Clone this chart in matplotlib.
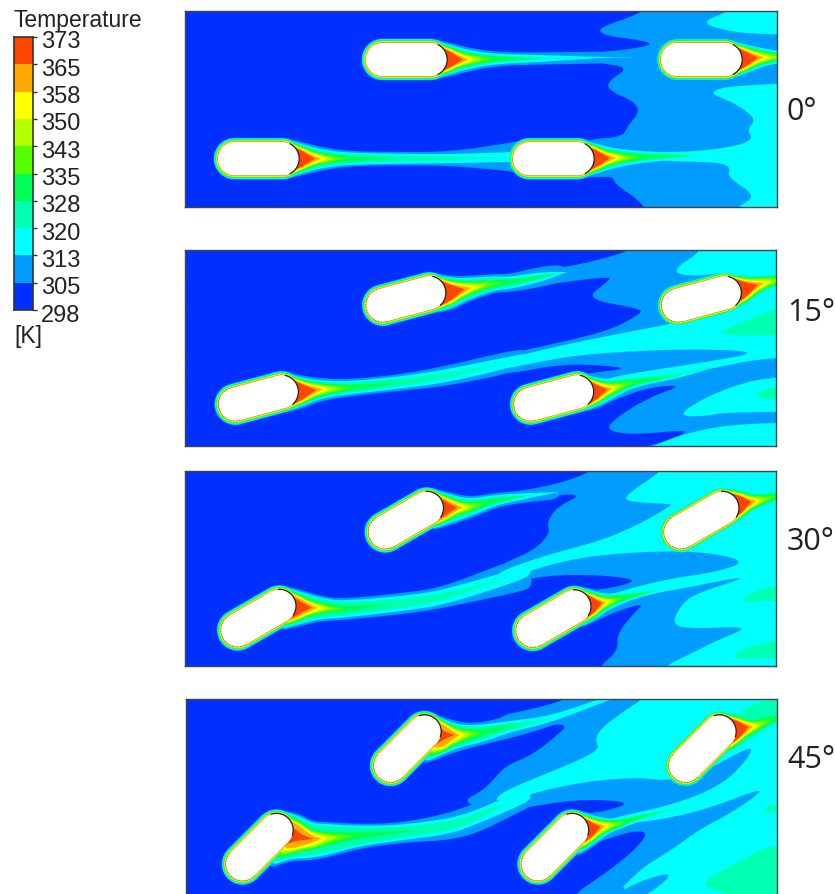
"""
plot.py
-------
Temperature contours around four staggered capsule tubes at 0, 15, 30, 45 deg.
All outlines are read off the picture, in picture pixels.
"""

import numpy as np
import matplotlib
matplotlib.use("Agg")
import matplotlib.pyplot as plt
from matplotlib.colors import ListedColormap, BoundaryNorm
from matplotlib.transforms import ScaledTranslation

# ── Legend ────────────────────────────────────────────────────────────────────
LEVELS = [298, 305.5, 313, 320.5, 328, 335.5, 343, 350.5, 358, 365.5, 373]
LEVEL_LABELS = ["298", "305", "313", "320", "328", "335", "343", "350", "358", "365", "373"]
COLORS = ["#0030ff", "#009cff", "#00ffff", "#00ffb0", "#00ff55",
          "#55ff00", "#b4ff00", "#ffff00", "#ffaa00", "#ff4400"]

ANGLES = [0, 15, 30, 45]
ANGLE_LABELS = ["0°", "15°", "30°", "45°"]
ANGLE_LABEL_Y = [112, 313, 542, 760]
PANELS = [(185, 777, 12, 208), (185, 776, 251, 447), (185, 776, 472, 667), (186, 777, 700, 895)]
EDGE_TICKS_1 = [266, 274, 312, 353, 371, 413, 425, 437]

TUBE_HALF = 24
TUBE_R = 16.7

# ── Tube centres ──────────────────────────────────────────────────────────────
TUBES_0 = [(258.5, 159.7), (406.5, 60.5), (553.5, 159.7), (701.5, 60.5)]
TUBES_1 = [(258.5, 399), (406, 300), (553.8, 399), (701.5, 300)]
TUBES_2 = [(258.5, 619), (406, 521), (553.5, 619.5), (701.5, 521)]
TUBES_3 = [(259.5, 848), (407.5, 749.5), (555, 848), (702.5, 749.5)]

# ── Contour outlines: 305 K, 313 K and 320 K ──────────────────────────────────
MID_0 = [[(645, 5), (643, 12), (630, 18), (596, 30), (607, 37), (633, 40), (656, 45), (625, 51),
          (596, 53), (596, 64), (630, 68), (607, 83), (610, 92), (633, 102), (640, 112), (628, 127),
          (622, 138), (590, 140), (570, 150), (570, 170), (590, 179), (613, 177), (615, 185),
          (633, 197), (645, 208), (645, 215), (1000, 215), (1000, 5)]]
CYAN_0 = [[(733, 5), (730, 12), (701, 23), (722, 31), (760, 36), (1000, 38), (1000, 5)],
          [(1000, 79), (740, 85), (706, 93), (733, 103), (757, 120), (747, 130), (754, 143), (707, 152),
           (660, 153), (622, 157), (660, 162), (717, 163), (731, 168), (727, 178), (757, 197),
           (737, 208), (737, 215), (1000, 215)]]
TEAL_0 = []

MID_1 = [[(633, 245), (630, 252), (583, 265), (533, 273), (497, 279), (497, 293), (550, 285), (612, 277),
          (607, 283), (585, 300), (642, 310), (640, 315), (613, 330), (567, 342), (497, 357), (497, 377),
          (550, 367), (583, 365), (630, 369), (600, 373), (583, 375), (570, 380), (565, 395), (575, 410),
          (593, 408), (617, 400), (650, 388), (684, 386), (650, 398), (617, 418), (605, 431), (633, 436),
          (695, 430), (663, 443), (647, 447), (645, 455), (1000, 455), (1000, 245)]]
CYAN_1 = [[(700, 245), (700, 253), (671, 272), (690, 278), (737, 272), (745, 290), (738, 311), (680, 323),
           (633, 332), (567, 345), (497, 362), (497, 372), (567, 357), (633, 352), (700, 350), (763, 353),
           (700, 364), (633, 374), (600, 381), (633, 384), (700, 372), (777, 356), (1000, 354), (1000, 245)],
          [(676, 416), (717, 392), (777, 375), (1000, 372), (1000, 415), (733, 412), (700, 418)],
          [(1000, 421), (777, 423), (707, 428), (650, 447), (650, 455), (1000, 455)]]
TEAL_1 = [[(711, 337), (745, 322), (777, 309), (790, 305), (1000, 300), (1000, 336), (790, 336)],
          [(750, 397), (777, 385), (1000, 383), (1000, 402), (777, 402)]]

MID_2 = [[(592, 465), (592, 472), (567, 482), (533, 490), (497, 495), (497, 508), (533, 498), (585, 494),
          (557, 508), (547, 523), (550, 535), (533, 552), (497, 567), (497, 590), (533, 578), (583, 575),
          (640, 580), (617, 588), (587, 592), (565, 605), (575, 625), (590, 625), (617, 612), (645, 604),
          (633, 615), (617, 635), (618, 652), (600, 667), (600, 675), (1000, 675), (1000, 465)]]
CYAN_2 = [[(662, 465), (662, 472), (623, 498), (630, 503), (672, 505), (670, 507), (640, 525), (600, 542),
           (550, 555), (497, 573), (497, 583), (567, 560), (633, 553), (700, 552), (748, 562), (717, 573),
           (667, 580), (617, 593), (600, 600), (650, 596), (760, 574), (700, 593), (683, 603), (671, 625),
           (690, 630), (752, 627), (720, 640), (690, 655), (665, 667), (665, 675), (1000, 675), (1000, 465)]]
TEAL_2 = [[(733, 604), (777, 582), (1000, 580), (1000, 600), (777, 601)],
          [(720, 660), (777, 637), (1000, 635), (1000, 660), (777, 659)]]

MID_3 = [[(568, 693), (568, 700), (533, 710), (497, 717), (497, 734), (533, 728), (570, 724), (553, 740),
          (530, 757), (505, 767), (490, 785), (478, 794), (462, 803), (497, 815), (533, 807), (583, 800),
          (632, 803), (607, 812), (583, 815), (570, 825), (570, 840), (600, 843), (627, 833), (650, 832),
          (633, 853), (600, 878), (577, 893), (575, 902), (1000, 902), (1000, 693)],
         ]
CYAN_3 = [[(643, 693), (643, 700), (627, 710), (600, 730), (595, 742), (600, 750), (577, 762), (550, 773),
           (497, 795), (497, 805), (567, 785), (633, 778), (665, 782), (700, 775), (745, 750), (754, 750),
           (735, 775), (707, 793), (667, 807), (617, 818), (600, 823), (633, 825), (700, 813), (772, 785),
           (733, 813), (700, 830), (673, 850), (640, 870), (610, 902), (1000, 902), (1000, 693)]]
MID_EXTRA_3 = [[(679, 871), (633, 884), (610, 902), (640, 902)]]
TEAL_3 = [[(759, 813), (777, 802), (1000, 800), (1000, 815), (777, 814)],
          [(698, 885), (740, 862), (777, 842), (1000, 838), (1000, 902), (740, 902), (722, 893)],
          [(735, 718), (750, 705), (777, 700), (1000, 698), (1000, 725), (760, 722)]]

# ── Wakes behind each tube: centre line and half widths of the cool bands ─────
WAKES_0 = [
    dict(center=[(299, 159.7), (320, 159.7), (347, 159.7), (397, 159.7), (450, 159.7), (510, 158), (522, 158)],
         hw305=[17, 12, 7.5, 6.5, 7, 14, 17], hw313=[15, 9.5, 6, 5, 4.5, 5, 5], hw320=[14, 8, 4.5, 3, 1.5, 0, 0],
         hot_len=1.0, hot_w=1.0, low=1.0, back=0, red=1.0),
    dict(center=[(447, 60.5), (468, 60.5), (495, 60), (540, 59.5), (600, 58.5), (640, 58)],
         hw305=[17, 12, 7, 6, 6, 5], hw313=[15, 9.5, 5, 3.5, 0.5, 0], hw320=[14, 8, 3.5, 1, 0, 0],
         hot_len=1.0, hot_w=1.0, low=1.0, back=0, red=1.0),
    dict(center=[(594, 159.7), (615, 159), (640, 158), (680, 157), (700, 157)],
         hw305=[17, 12, 9, 7, 0], hw313=[15, 9.5, 6, 3, 0], hw320=[14, 8, 4, 1.5, 0],
         hot_len=1.0, hot_w=1.0, low=1.0, back=0, red=1.0),
    dict(center=[(742, 60), (760, 58.5), (777, 58), (795, 58)],
         hw305=[18, 12, 9, 9], hw313=[15, 10, 6, 6], hw320=[14, 9, 4, 4],
         hot_len=1.0, hot_w=1.0, low=1.0, back=0, red=1.0),
]
WAKES_1 = [
    dict(center=[(298, 393), (320, 390.5), (347, 389), (397, 384), (447, 377), (510, 363), (530, 358)],
         hw305=[17, 11.5, 8.5, 8, 10, 11, 8], hw313=[15, 9, 6.5, 6, 6.5, 5.5, 4], hw320=[14, 8, 5, 4, 2.5, 0, 0],
         hot_len=1.15, hot_w=1.0, low=1.0, back=4, red=1.0),
    dict(center=[(446, 294), (465, 290), (495, 284), (510, 284), (540, 278), (567, 273)],
         hw305=[18, 13, 9, 9, 10, 8], hw313=[16, 11, 7, 6, 5, 0], hw320=[15, 10, 6, 4, 2, 0],
         hot_len=1.2, hot_w=1.05, low=1.0, back=4, red=1.0),
    dict(center=[(593, 393), (610, 390), (633, 383), (680, 376), (720, 365)],
         hw305=[17, 12, 8, 6, 4], hw313=[15, 10, 5, 3, 1], hw320=[14, 8, 4, 1, 0],
         hot_len=0.9, hot_w=1.0, low=1.0, back=4, red=1.0),
    dict(center=[(741, 291), (760, 285), (777, 281), (795, 280)],
         hw305=[16, 9, 7, 6], hw313=[16, 9, 7, 6], hw320=[15, 8, 6, 5],
         hot_len=1.1, hot_w=1.0, low=1.0, back=4, red=1.0),
]
WAKES_2 = [
    dict(center=[(296, 608), (320, 609), (343, 610), (413, 603), (447, 597), (510, 578), (530, 572)],
         hw305=[18, 12, 10, 10, 10, 15, 15], hw313=[16, 10, 8, 7, 7, 6, 4], hw320=[15, 9, 6, 4, 3, 0, 0],
         hot_len=1.0, hot_w=1.0, low=1.1, back=14, red=0.8),
    dict(center=[(443, 509), (470, 508), (495, 501), (510, 499), (533, 496), (560, 493)],
         hw305=[17, 10, 7, 6, 6, 6], hw313=[15, 8, 5, 4, 2, 0], hw320=[14, 7, 3, 2, 0, 0],
         hot_len=0.9, hot_w=1.0, low=1.1, back=10, red=0.8),
    dict(center=[(591, 606), (607, 603), (630, 597), (660, 591), (690, 586)],
         hw305=[17, 10, 6, 5, 0], hw313=[15, 8, 4, 2, 0], hw320=[14, 7, 2, 0, 0],
         hot_len=0.7, hot_w=1.0, low=1.0, back=10, red=1.0),
    dict(center=[(739, 505), (757, 502), (777, 497), (795, 495)],
         hw305=[15, 7, 6, 6], hw313=[15, 7, 6, 6], hw320=[14, 6, 5, 5],
         hot_len=0.8, hot_w=1.0, low=1.0, back=10, red=1.0),
]
WAKES_3 = [
    dict(center=[(293, 836), (310, 840), (327, 839), (360, 836), (400, 833), (447, 827), (473, 819), (510, 803), (530, 796)],
         hw305=[22, 18, 16, 11, 9, 12, 13, 11, 9], hw313=[20, 16, 14, 9, 7, 7, 6, 6, 4],
         hw320=[19, 14, 12, 8, 5, 4, 3, 0, 0],
         hot_len=1.3, hot_w=1.2, low=1.2, back=36, red=0.4),
    dict(center=[(441, 736), (460, 736), (480, 734), (510, 727), (550, 720), (600, 702), (620, 695)],
         hw305=[18, 13, 10, 10, 6, 6, 6], hw313=[16, 10, 8, 5, 3, 2, 2], hw320=[15, 9, 6, 3, 0, 0, 0],
         hot_len=0.85, hot_w=1.15, low=1.2, back=28, red=0.4),
    dict(center=[(588, 830), (605, 827), (617, 825), (650, 815), (700, 805)],
         hw305=[17, 10, 7, 5, 3], hw313=[15, 8, 5, 3, 1], hw320=[14, 7, 3, 1, 0],
         hot_len=0.8, hot_w=1.0, low=1.1, back=20, red=1.0),
    dict(center=[(736, 730), (755, 727), (772, 720), (795, 716)],
         hw305=[17, 9, 7, 5], hw313=[17, 9, 7, 5], hw320=[15, 8, 5, 3],
         hot_len=0.8, hot_w=1.0, low=1.1, back=20, red=1.0),
]

# Hot core of a wake, same shape behind every tube
HOT_STATIONS = [4, 10, 16, 22, 28, 36, 48, 70, 95]
HOT_HW = [
    [12.5, 9.5, 7.5, 6, 5, 4, 2.8, 1.5, 0],
    [11.5, 8.5, 6.5, 5, 3.8, 2.2, 0, 0, 0],
    [10.5, 7.5, 5.5, 3.8, 2.2, 0, 0, 0, 0],
    [9.5, 6.5, 4.2, 2.2, 0, 0, 0, 0, 0],
    [8.5, 5.2, 2.5, 0, 0, 0, 0, 0, 0],
    [7.5, 3.5, 0, 0, 0, 0, 0, 0, 0],
]
# how far each colour band lies off the tube wall, in px (305 K band first)
HALO = [4.2, 3.6, 3.0, 2.4, 1.9, 1.5, 1.1, 0.7, 0.25]

PANEL_DATA = [
    (TUBES_0, MID_0, [], CYAN_0, TEAL_0, WAKES_0),
    (TUBES_1, MID_1, [], CYAN_1, TEAL_1, WAKES_1),
    (TUBES_2, MID_2, [], CYAN_2, TEAL_2, WAKES_2),
    (TUBES_3, MID_3, MID_EXTRA_3, CYAN_3, TEAL_3, WAKES_3),
]

W, H = 835, 895


# ── Helpers ───────────────────────────────────────────────────────────────────
def chaikin(pts, n=3):
    # corner cutting, rounds the read-off outlines
    pts = np.asarray(pts, dtype=float)
    for _ in range(n):
        nxt = np.roll(pts, -1, axis=0)
        pts = np.column_stack([0.75 * pts + 0.25 * nxt, 0.25 * pts + 0.75 * nxt]).reshape(-1, 2)
    return pts


def fill_smooth(ax, pts, color, zorder, n=3):
    pts = chaikin(pts, n)
    ax.fill(pts[:, 0], pts[:, 1], color=color, lw=0, zorder=zorder)


def capsule(center, angle, r):
    a = np.radians(angle)
    axis = np.array([np.cos(a), -np.sin(a)])
    side = np.array([-axis[1], axis[0]])
    c = np.array(center)
    t = np.linspace(-np.pi / 2, np.pi / 2, 40)
    arc = r * (np.outer(np.cos(t), axis) + np.outer(np.sin(t), side))
    return np.vstack([c + TUBE_HALF * axis + arc, c - TUBE_HALF * axis - arc])


def wake_polygon(center, stations, hw, tube, angle, d, low, back):
    # band between two offset edges of the centre line, rooted on the tube wall
    a = np.radians(angle)
    axis = np.array([np.cos(a), -np.sin(a)])
    end = np.array(tube) + TUBE_HALF * axis
    center = np.asarray(center, dtype=float)
    s = np.r_[0, np.cumsum(np.hypot(*np.diff(center, axis=0).T))]
    stations = np.asarray(stations, dtype=float)
    hw = np.asarray(hw, dtype=float)
    zero = np.nonzero(hw <= 0)[0]
    if len(zero):
        stations, hw = stations[:zero[0] + 1], hw[:zero[0] + 1]
    x = np.interp(stations, s, center[:, 0])
    y = np.interp(stations, s, center[:, 1])
    tx = np.interp(stations + 2, s, center[:, 0]) - np.interp(stations - 2, s, center[:, 0])
    ty = np.interp(stations + 2, s, center[:, 1]) - np.interp(stations - 2, s, center[:, 1])
    norm = np.hypot(tx, ty) + 1e-9
    nx, ny = ty / norm, -tx / norm
    upper = np.column_stack([x + nx * hw, y + ny * hw])
    lower = np.column_stack([x - nx * hw * low, y - ny * hw * low])
    r = TUBE_R + d
    root_u = end + r * np.array([0, -1])
    root_l = end + r * np.array([np.sin(a), np.cos(a)]) - back * axis
    return np.vstack([[end], [root_u], upper, lower[::-1], [root_l]])


def draw_level(ax, i, angle, tubes, wakes):
    # one colour band: halo round the wall plus the wake of every tube
    z = 10 + 3 * i
    for tube, w in zip(tubes, wakes):
        outline = capsule(tube, angle, TUBE_R + HALO[i])
        ax.fill(outline[:, 0], outline[:, 1], color=COLORS[i + 1], lw=0, zorder=z)
        if i < 3:
            hw = w[["hw305", "hw313", "hw320"][i]]
            center = np.asarray(w["center"], dtype=float)
            st = np.r_[0, np.cumsum(np.hypot(*np.diff(center, axis=0).T))]
            st[0] = 2
        else:
            hw = np.array(HOT_HW[i - 3]) * w["hot_w"]
            if i == 8:
                hw = hw * w["red"]
            st = np.array(HOT_STATIONS) * w["hot_len"]
        back = w["back"] * (1 - i / 9)
        poly = wake_polygon(w["center"], st, hw, tube, angle, HALO[i], w["low"], back)
        fill_smooth(ax, poly, COLORS[i + 1], z, n=2)


def draw_panel(ax, angle, tubes, mid, mid_extra, cyan, teal, wakes):
    ax.set_facecolor(COLORS[0])
    # each contour region goes under the tails of its own level, above the cooler ones
    for poly in mid:
        fill_smooth(ax, poly, COLORS[1], 9)
    draw_level(ax, 0, angle, tubes, wakes)
    for poly in cyan:
        fill_smooth(ax, poly, COLORS[2], 11)
    for poly in mid_extra:
        fill_smooth(ax, poly, COLORS[1], 12)
    draw_level(ax, 1, angle, tubes, wakes)
    for poly in teal:
        fill_smooth(ax, poly, COLORS[3], 14)
    for i in range(2, 9):
        draw_level(ax, i, angle, tubes, wakes)

    for tube in tubes:
        outline = capsule(tube, angle, TUBE_R)
        ax.fill(outline[:, 0], outline[:, 1], color="white", lw=0, zorder=50)
        # dark rear arc, and the dotted wall seen on the tilted tubes
        ax.plot(outline[6:34, 0], outline[6:34, 1], color="#222222", lw=0.9, zorder=51)
        if angle > 0:
            ax.plot(outline[40:, 0], outline[40:, 1], color="#333333", lw=0.5,
                    dashes=(1, 3), zorder=51)

    for side in ax.spines.values():
        side.set_color("#444444")
        side.set_linewidth(1.0)
        side.set_zorder(60)
    ax.set_xticks([])
    ax.set_yticks([])


# ── Main ──────────────────────────────────────────────────────────────────────
def main():
    fig = plt.figure(figsize=(W / 100, H / 100), dpi=100, facecolor="white")

    for i, (x0, x1, y0, y1) in enumerate(PANELS):
        ax = fig.add_axes([x0 / W, 1 - y1 / H, (x1 - x0) / W, (y1 - y0) / H])
        tubes, mid, mid_extra, cyan, teal, wakes = PANEL_DATA[i]
        draw_panel(ax, ANGLES[i], tubes, mid, mid_extra, cyan, teal, wakes)
        ax.set_xlim(x0, x1)
        ax.set_ylim(y1, y0)
        if i == 1:
            # short mesh marks on the left edge of this panel
            ax.set_yticks(EDGE_TICKS_1)
            ax.set_yticklabels([])
            ax.tick_params(axis="y", direction="in", length=2, width=0.8, color="#444444")
        if i == 3:
            ax.spines["bottom"].set_visible(False)
        fig.text(787 / W, 1 - ANGLE_LABEL_Y[i] / H, ANGLE_LABELS[i], fontsize=22,
                 family="Open Sans", va="center", ha="left", color="#222222")

    # legend
    cax = fig.add_axes([14 / W, 1 - 311 / H, 19 / W, 273 / H])
    cmap = ListedColormap(COLORS)
    cax.pcolormesh([0, 1], LEVELS, np.array(LEVELS[:-1])[:, None] + 1, cmap=cmap,
                   norm=BoundaryNorm(LEVELS, cmap.N))
    cax.set_xticks([])
    cax.yaxis.tick_right()
    cax.set_yticks(LEVELS)
    cax.set_yticklabels(LEVEL_LABELS, fontsize=17, family="Liberation Sans", color="#222222")
    cax.tick_params(axis="y", length=3, width=1, pad=3, color="#333333")
    shift = ScaledTranslation(0, -2 / 100, fig.dpi_scale_trans)
    for lab in cax.get_yticklabels():
        lab.set_transform(lab.get_transform() + shift)
    for side in cax.spines.values():
        side.set_color("#333333")
        side.set_linewidth(1.2)
    fig.text(14 / W, 1 - 21 / H, "Temperature", fontsize=16.5, family="Liberation Sans",
             va="center", color="#222222")
    fig.text(14 / W, 1 - 336 / H, "[K]", fontsize=16.5, family="Liberation Sans",
             va="center", color="#222222")

    fig.savefig("out.png", dpi=100)
    plt.close(fig)


if __name__ == "__main__":
    main()
